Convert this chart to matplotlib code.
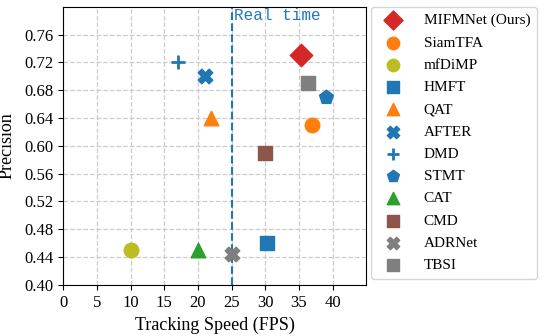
import matplotlib
matplotlib.use("Agg")
import matplotlib.pyplot as plt

names = ["MIFMNet (Ours)", "SiamTFA", "mfDiMP", "HMFT", "QAT", "AFTER", "DMD",
         "STMT", "CAT", "CMD", "ADRNet", "TBSI"]
fps = [35.3, 37.0, 10.0, 30.2, 22.0, 21.0, 17.0, 39.0, 20.0, 30.0, 25.0, 36.3]
precision = [0.730, 0.630, 0.450, 0.460, 0.640, 0.700, 0.720, 0.670, 0.450, 0.590, 0.444, 0.690]
markers = ["D", "o", "o", "s", "^", "X", "+", "p", "^", "s", "X", "s"]
colors = ["#d62728", "#ff7f0e", "#bcbd22", "#1f77b4", "#ff7f0e", "#1f77b4", "#1f77b4",
          "#1f77b4", "#2ca02c", "#8c564b", "#7f7f7f", "#7f7f7f"]
sizes = [130, 110, 110, 110, 110, 110, 110, 110, 110, 110, 110, 110]

plt.rcParams['font.family'] = ['Liberation Serif', 'DejaVu Serif']
fig = plt.figure(figsize=(5.5, 3.36), dpi=100)
ax = fig.add_axes([0.115, 0.152, 0.551, 0.828])

for n, x, y, m, c, s in zip(names, fps, precision, markers, colors, sizes):
    kw = dict(marker=m, color=c, s=s, label=n, zorder=3)
    if m == "+":
        kw.update(linewidths=2)
    ax.scatter(x, y, **kw)

ax.axvline(25, color="#1f77b4", linestyle="--", linewidth=1.5, zorder=2)
ax.text(25.3, 0.788, "Real time", color="#1f77b4", fontsize=11.5,
        family="Liberation Mono", va="center", ha="left")

ax.set_xlim(0, 45)
ax.set_ylim(0.40, 0.80)
ax.set_xticks(range(0, 45, 5))
ax.set_yticks([0.40, 0.44, 0.48, 0.52, 0.56, 0.60, 0.64, 0.68, 0.72, 0.76])
ax.set_yticklabels([f"{v:.2f}" for v in ax.get_yticks()])
ax.tick_params(labelsize=12)
ax.grid(True, linestyle="--", color="#cccccc", linewidth=0.9, zorder=0)
ax.set_axisbelow(True)
ax.set_xlabel("Tracking Speed (FPS)", fontsize=13)
ax.set_ylabel("Precision", fontsize=13, labelpad=6)

leg = ax.legend(loc="upper left", bbox_to_anchor=(1.015, 1.0), fontsize=11,
                frameon=True, labelspacing=0.56, handletextpad=1.0,
                borderpad=0.45, scatterpoints=1, markerscale=0.85,
                borderaxespad=0.0)
leg.get_frame().set_edgecolor("#cccccc")

fig.savefig("out.png", dpi=100)
